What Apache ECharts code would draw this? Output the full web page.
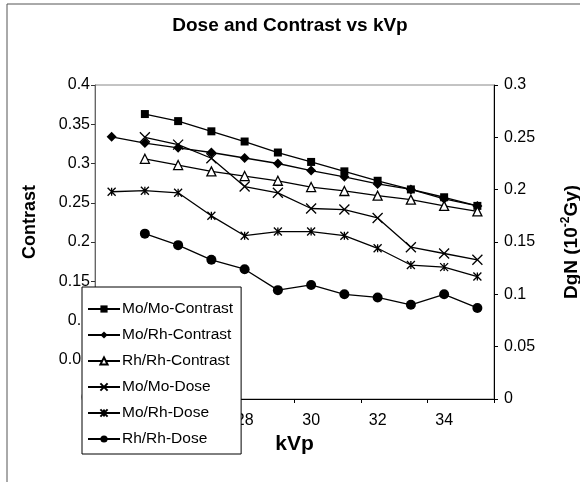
<!DOCTYPE html>
<html lang="en">
  <head>
    <meta charset="UTF-8" />
    <title>Dose and Contrast vs kVp</title>
    <script src="https://cdn.jsdelivr.net/npm/echarts@6/dist/echarts.min.js"></script>
    <style>
      html, body { margin: 0; padding: 0; background: #fff; }
    </style>
  </head>
  <body>
    <div id="main" style="width: 580px; height: 482px"></div>
    <script>
      var kvp = ['24', '25', '26', '27', '28', '29', '30', '31', '32', '33', '34', '35'];
      // contrast (left axis)
      var moMoContrast = [null, 0.363, 0.354, 0.341, 0.328, 0.314, 0.302, 0.290, 0.278, 0.267, 0.257, 0.246];
      var moRhContrast = [0.334, 0.326, 0.320, 0.314, 0.307, 0.300, 0.291, 0.283, 0.274, 0.267, 0.255, 0.246];
      var rhRhContrast = [null, 0.306, 0.298, 0.290, 0.284, 0.278, 0.270, 0.265, 0.259, 0.254, 0.246, 0.239];
      // dose, DgN (right axis)
      var moMoDose = [null, 0.250, 0.243, 0.230, 0.203, 0.197, 0.182, 0.181, 0.173, 0.145, 0.139, 0.133];
      var moRhDose = [0.198, 0.199, 0.197, 0.175, 0.156, 0.160, 0.160, 0.156, 0.144, 0.128, 0.126, 0.117];
      var rhRhDose = [null, 0.158, 0.147, 0.133, 0.124, 0.104, 0.109, 0.100, 0.097, 0.090, 0.100, 0.087];

      var font = 'Arial, "Liberation Sans", sans-serif';
      var xMark = 'path://M0,0L10,10M10,0L0,10';
      var starMark = 'path://M0,0L10,10M10,0L0,10M5,0L5,10';

      function mkSeries(name, data, axis, symbol, size, hollow) {
        return {
          name: name,
          type: 'line',
          yAxisIndex: axis,
          data: data,
          symbol: symbol,
          symbolSize: size,
          showAllSymbol: true,
          connectNulls: false,
          lineStyle: { color: '#000', width: 1.3 },
          itemStyle: {
            color: hollow ? '#fff' : '#000',
            borderColor: '#000',
            borderWidth: hollow || symbol.indexOf('path') === 0 ? 1.3 : 0,
          },
          emphasis: { disabled: true },
          animation: false,
        };
      }

      var chart = echarts.init(document.getElementById('main'));
      var option = {
        backgroundColor: '#fff',
        textStyle: { fontFamily: font },
        title: {
          text: 'Dose and Contrast vs kVp',
          left: 'center',
          top: 11,
          textStyle: { fontSize: 19, fontWeight: 'bold', color: '#000', fontFamily: font },
        },
        graphic: [
          {
            type: 'rect',
            shape: { x: 7, y: 4, width: 600, height: 500 },
            style: { fill: 'none', stroke: '#555', lineWidth: 1 },
            silent: true,
          },
        ],
        grid: {
          left: 95,
          right: 86,
          top: 85,
          bottom: 83,
          outerBoundsMode: 'none',
          containLabel: false,
          show: true,
          borderColor: '#888',
          borderWidth: 1,
        },
        legend: {
          orient: 'vertical',
          left: 82,
          top: 287,
          width: 152,
          padding: [14, 8, 7, 5],
          itemWidth: 32,
          itemHeight: 9,
          itemGap: 10,
          backgroundColor: '#fff',
          borderColor: '#000',
          borderWidth: 1,
          borderRadius: 0,
          textStyle: { fontSize: 15.5, color: '#000', fontFamily: font, padding: [0, 0, 0, -3] },
          data: ['Mo/Mo-Contrast', 'Mo/Rh-Contrast', 'Rh/Rh-Contrast', 'Mo/Mo-Dose', 'Mo/Rh-Dose', 'Rh/Rh-Dose'],
        },
        xAxis: {
          type: 'category',
          data: kvp,
          boundaryGap: true,
          name: 'kVp',
          nameLocation: 'middle',
          nameGap: 23,
          nameTextStyle: { fontSize: 21, fontWeight: 'bold', color: '#000', fontFamily: font },
          axisLine: { lineStyle: { color: '#000', width: 1 } },
          axisTick: { show: true, length: 4, lineStyle: { color: '#000' } },
          axisLabel: { interval: 1, fontSize: 16, color: '#000', margin: 14, fontFamily: font },
          splitLine: { show: false },
        },
        yAxis: [
          {
            type: 'value',
            min: 0,
            max: 0.4,
            interval: 0.05,
            position: 'left',
            name: 'Contrast',
            nameLocation: 'middle',
            nameRotate: 90,
            nameGap: 56,
            nameTextStyle: {
              fontSize: 18,
              fontWeight: 'bold',
              color: '#000',
              fontFamily: font,
              padding: [0, 0, 0, 40],
            },
            axisLine: { show: true, lineStyle: { color: '#666', width: 1 } },
            axisTick: { show: true, length: 4, lineStyle: { color: '#333' } },
            axisLabel: { fontSize: 16, color: '#000', margin: 5, fontFamily: font },
            splitLine: { show: false },
          },
          {
            type: 'value',
            min: 0,
            max: 0.3,
            interval: 0.05,
            position: 'right',
            name: '{b|DgN (10}{s|-2}{b|Gy)}',
            nameLocation: 'middle',
            nameRotate: 90,
            nameGap: 66,
            nameTextStyle: {
              color: '#000',
              fontFamily: font,
              rich: {
                b: { fontSize: 19, fontWeight: 'bold', color: '#000', fontFamily: font, lineHeight: 23 },
                s: { fontSize: 12, fontWeight: 'bold', color: '#000', fontFamily: font, lineHeight: 23, verticalAlign: 'top' },
              },
            },
            axisLine: { show: true, lineStyle: { color: '#000', width: 1 } },
            axisTick: { show: true, length: 4, lineStyle: { color: '#000' } },
            axisLabel: { fontSize: 16, color: '#000', margin: 10, fontFamily: font },
            splitLine: { show: false },
          },
        ],
        series: [
          mkSeries('Mo/Mo-Contrast', moMoContrast, 0, 'rect', 8, false),
          mkSeries('Mo/Rh-Contrast', moRhContrast, 0, 'diamond', 10, false),
          mkSeries('Rh/Rh-Contrast', rhRhContrast, 0, 'triangle', 9, true),
          mkSeries('Mo/Mo-Dose', moMoDose, 1, xMark, 10, false),
          mkSeries('Mo/Rh-Dose', moRhDose, 1, starMark, 8, false),
          mkSeries('Rh/Rh-Dose', rhRhDose, 1, 'circle', 10, false),
        ],
      };
      chart.setOption(option);
    </script>
  </body>
</html>
